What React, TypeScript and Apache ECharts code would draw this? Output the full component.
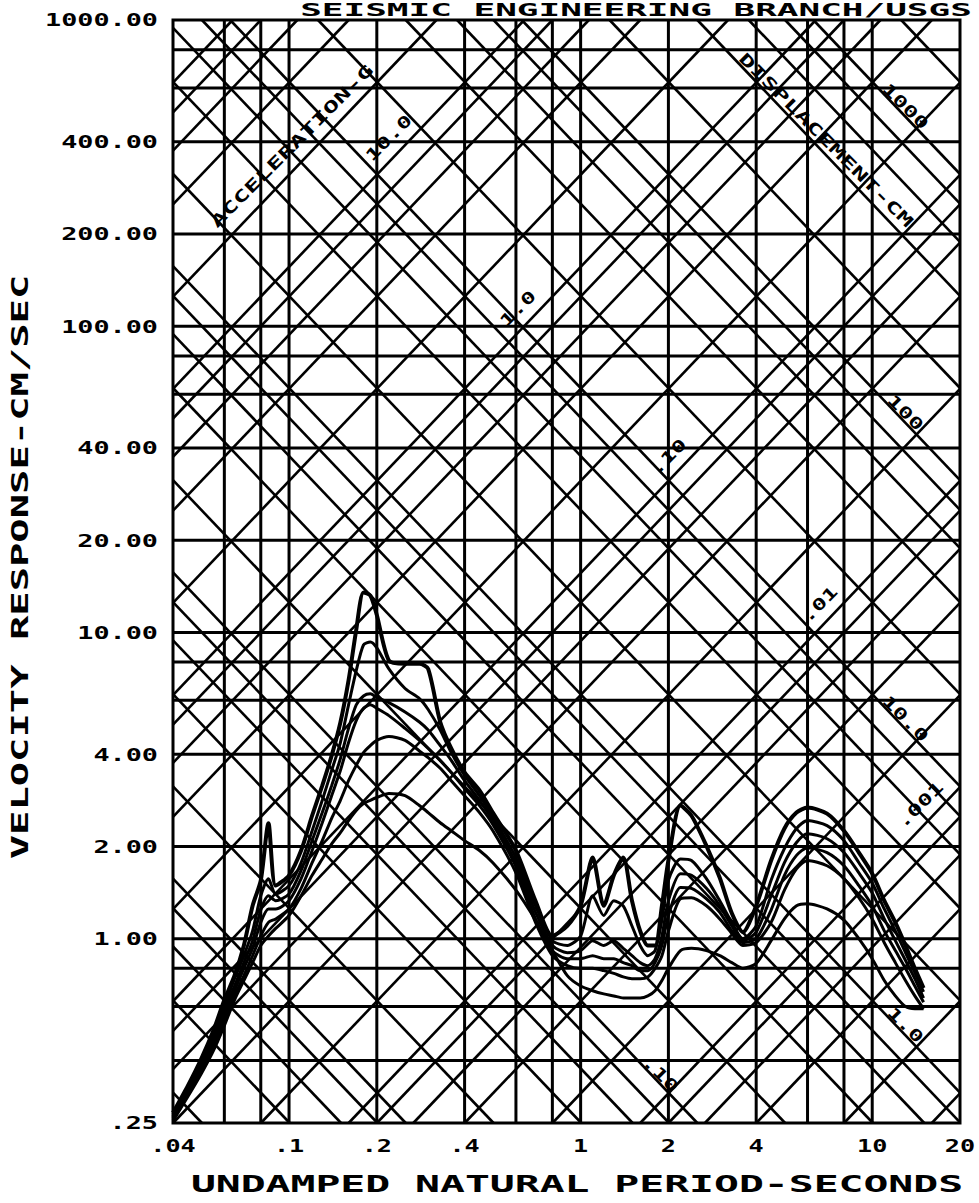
import React, { useEffect, useRef } from "react";
import * as echarts from "echarts";

// ---------- data ----------
const PERIODS = [0.04, 0.045, 0.05, 0.055, 0.06, 0.065, 0.07, 0.075, 0.08, 0.085, 0.09, 0.1, 0.11, 0.12, 0.13, 0.14, 0.15, 0.16, 0.17, 0.18, 0.19, 0.2, 0.22, 0.25, 0.28, 0.3, 0.33, 0.36, 0.4, 0.45, 0.5, 0.6, 0.7, 0.8, 0.9, 1.0, 1.1, 1.2, 1.3, 1.4, 1.5, 1.6, 1.7, 1.8, 1.9, 2.0, 2.2, 2.4, 2.7, 3.0, 3.3, 3.6, 4.0, 4.5, 5.0, 5.5, 6.0, 7.0, 8.0, 9.0, 10, 11, 12, 13, 14, 15];

const CURVE_1 = [0.27, 0.331, 0.405, 0.5, 0.63, 0.757, 0.95, 1.28, 1.55, 2.38, 1.49,
  1.61, 1.94, 2.52, 3.16, 3.96, 5.08, 6.97, 10.2, 13.5, 13.2,
  11.4, 8.1, 7.9, 7.9, 7.6, 5.1, 4.18,
  3.49, 3.05, 2.58,
  1.94, 1.33, 1.02, 1.1,
  1.28, 1.84, 1.28, 1.61, 1.84, 1.33, 1.06, 0.95, 0.95, 1.28,
  1.8, 2.72, 2.52, 2.01,
  1.58, 1.21, 1.05,
  1.28, 1.8,
  2.29, 2.58,
  2.68, 2.56, 2.25, 1.91,
  1.63, 1.33, 1.13, 0.95, 0.8, 0.69];
const CURVE_2 = [0.266, 0.324, 0.394, 0.48, 0.6, 0.74, 0.88, 1.06, 1.38, 1.57, 1.4,
  1.49, 1.77, 2.25, 2.83, 3.54, 4.37, 5.8, 7.5, 9.1, 9.3,
  8.9, 7.6, 6.56, 6.08, 5.6, 4.8, 4.05,
  3.41, 2.93, 2.5,
  1.84, 1.28, 0.985, 0.95,
  1.02, 1.38, 1.19, 1.33, 1.28, 1.1, 0.95, 0.88, 0.914, 1.15,
  1.55, 1.82, 1.8, 1.57,
  1.33, 1.13, 1.0,
  1.1, 1.55,
  1.97, 2.29,
  2.43, 2.34, 2.09, 1.77,
  1.52, 1.25, 1.06, 0.9, 0.774, 0.67];
const CURVE_3 = [0.262, 0.32, 0.385, 0.46, 0.58, 0.7, 0.835, 0.985, 1.24, 1.38, 1.33,
  1.4, 1.67, 2.09, 2.58, 3.16, 3.87, 4.86, 5.8, 6.2, 6.3,
  6.13, 5.9, 5.5, 5.1, 4.8, 4.27, 3.82,
  3.28, 2.83, 2.43,
  1.77, 1.22, 0.95, 0.9,
  0.914, 0.985, 0.95, 0.985, 0.93, 0.88, 0.835, 0.816, 0.86, 1.02,
  1.33, 1.63, 1.61, 1.46,
  1.28, 1.1, 0.985,
  1.05, 1.38,
  1.77, 2.06,
  2.2, 2.12, 1.91, 1.64,
  1.41, 1.16, 0.985, 0.85, 0.74, 0.64];
const CURVE_4 = [0.26, 0.314, 0.376, 0.454, 0.56, 0.676, 0.8, 0.93, 1.13, 1.25, 1.25,
  1.33, 1.57, 1.94, 2.39, 2.93, 3.54, 4.37, 5.15, 5.65, 5.8,
  5.65, 5.35, 4.86, 4.44, 4.18, 3.82, 3.49,
  3.09, 2.72, 2.36,
  1.72, 1.16, 0.914, 0.86,
  0.86, 0.88, 0.86, 0.86, 0.835, 0.816, 0.786, 0.786, 0.835, 0.95,
  1.19, 1.47, 1.46, 1.35,
  1.22, 1.06, 0.97,
  1.0, 1.24,
  1.61, 1.87,
  1.98, 1.91, 1.73, 1.49,
  1.28, 1.06, 0.914, 0.8, 0.7, 0.62];
const CURVE_5 = [0.258, 0.31, 0.37, 0.444, 0.54, 0.65, 0.757, 0.88, 1.02, 1.13, 1.16,
  1.25, 1.46, 1.77, 2.09, 2.47, 2.83, 3.28, 3.68, 4.05, 4.27,
  4.44, 4.57, 4.44, 4.1, 3.9, 3.6, 3.28,
  2.93, 2.58, 2.25,
  1.64, 1.13, 0.88, 0.816,
  0.8, 0.8, 0.786, 0.77, 0.75, 0.74, 0.74, 0.75, 0.8, 0.88,
  1.06, 1.35, 1.36, 1.28,
  1.16, 1.04, 0.95,
  0.97, 1.13,
  1.44, 1.69,
  1.8, 1.73, 1.57, 1.36,
  1.16, 0.97, 0.835, 0.73, 0.65, 0.59];
const CURVE_6 = [0.254, 0.305, 0.362, 0.43, 0.52, 0.63, 0.73, 0.835, 0.95, 1.02, 1.08,
  1.19, 1.38, 1.61, 1.82, 2.04, 2.22, 2.43, 2.62, 2.76, 2.83,
  2.89, 2.98, 2.93, 2.72, 2.58, 2.39, 2.25,
  2.09, 1.94, 1.77,
  1.44, 1.15, 0.914, 0.757,
  0.7, 0.676, 0.66, 0.65, 0.64, 0.64, 0.64, 0.65, 0.676, 0.73,
  0.8, 0.914, 0.93, 0.914,
  0.88, 0.835, 0.8,
  0.83, 0.985,
  1.16, 1.28,
  1.3, 1.25, 1.15, 1.0,
  0.86, 0.73, 0.65, 0.6, 0.59, 0.59];

const CURVES = [CURVE_1, CURVE_2, CURVE_3, CURVE_4, CURVE_5, CURVE_6];

const X_MIN = 0.04;
const X_MAX = 20;
const Y_MIN = 0.25;
const Y_MAX = 1000;

const X_TICKS = [0.04, 0.1, 0.2, 0.4, 1, 2, 4, 10, 20];
const X_TICK_LABELS = [".04", ".1", ".2", ".4", "1", "2", "4", "10", "20"];
const Y_TICKS = [1000, 400, 200, 100, 40, 20, 10, 4, 2, 1, 0.25];
const Y_TICK_LABELS = ["1000.00", "400.00", "200.00", "100.00", "40.00", "20.00", "10.00", "4.00", "2.00", "1.00", ".25"];

const X_GRID = [0.06, 0.08, 0.1, 0.2, 0.4, 0.6, 0.8, 1, 2, 4, 6, 8, 10];
const Y_GRID = [0.4, 0.6, 0.8, 1, 2, 4, 6, 8, 10, 20, 40, 60, 80, 100, 200, 400, 600, 800];

const DIAG_MULTIPLIERS = [1, 2, 4, 6, 8];
const ACC_DECADES = [-5, -4, -3, -2, -1, 0, 1, 2];
const DISP_DECADES = [-4, -3, -2, -1, 0, 1, 2, 3];

const ACC_LABELS = [
  { text: "10.0", g: 10, period: 0.22 },
  { text: "1.0", g: 1, period: 0.61 },
  { text: ".10", g: 0.1, period: 2.0 },
  { text: ".01", g: 0.01, period: 6.6 },
  { text: ".001", g: 0.001, period: 14.6 },
];
const DISP_LABELS = [
  { text: "1000", cm: 1000, period: 13 },
  { text: "100", cm: 100, period: 13 },
  { text: "10.0", cm: 10, period: 13 },
  { text: "1.0", cm: 1, period: 13 },
  { text: ".10", cm: 0.1, period: 1.88 },
];

const TITLE = "SEISMIC ENGINEERING BRANCH/USGS";
const X_NAME = "UNDAMPED NATURAL PERIOD-SECONDS";
const Y_NAME = "VELOCITY RESPONSE-CM/SEC";
const ACC_NAME = "ACCELERATION-G";
const DISP_NAME = "DISPLACEMENT-CM";

// ---------- helpers ----------
const G = 981;
const TWO_PI = 2 * Math.PI;
const accV = (g: number, t: number) => (g * G * t) / TWO_PI;
const dispV = (cm: number, t: number) => (TWO_PI * cm) / t;

const FONT = '"DejaVu Sans Mono", monospace';

function lineSeries(data: number[][], width: number, z = 2) {
  return {
    type: "line",
    data,
    symbol: "none",
    showSymbol: false,
    silent: true,
    clip: true,
    z,
    lineStyle: { color: "#000", width },
    emphasis: { disabled: true },
  };
}

function buildOption() {
  const series: any[] = [];
  X_GRID.forEach((x) => series.push(lineSeries([[x, Y_MIN], [x, Y_MAX]], 3)));
  Y_GRID.forEach((y) => series.push(lineSeries([[X_MIN, y], [X_MAX, y]], 3)));

  ACC_DECADES.forEach((e) =>
    DIAG_MULTIPLIERS.forEach((m) => {
      const g = m * Math.pow(10, e);
      const k = accV(g, 1);
      const lo = Math.max(X_MIN, Y_MIN / k);
      const hi = Math.min(X_MAX, Y_MAX / k);
      if (lo < hi) series.push(lineSeries([[lo, accV(g, lo)], [hi, accV(g, hi)]], 2.6));
    })
  );
  DISP_DECADES.forEach((e) =>
    DIAG_MULTIPLIERS.forEach((m) => {
      const cm = m * Math.pow(10, e);
      const lo = Math.max(X_MIN, (TWO_PI * cm) / Y_MAX);
      const hi = Math.min(X_MAX, (TWO_PI * cm) / Y_MIN);
      if (lo < hi) series.push(lineSeries([[lo, dispV(cm, lo)], [hi, dispV(cm, hi)]], 2.6));
    })
  );

  CURVES.forEach((c, i) => {
    const s: any = lineSeries(PERIODS.map((t, j) => [t, c[j]]), i === 0 ? 4 : 3, 5);
    s.smooth = 0.25;
    series.push(s);
  });

  const hidden = { show: false };
  return {
    animation: false,
    backgroundColor: "#fff",
    grid: {
      left: 173,
      top: 20,
      width: 787,
      height: 1103,
      show: true,
      borderColor: "#000",
      borderWidth: 3,
      backgroundColor: "transparent",
    },
    xAxis: {
      type: "log",
      logBase: 10,
      min: X_MIN,
      max: X_MAX,
      axisLine: hidden,
      axisTick: hidden,
      axisLabel: hidden,
      splitLine: hidden,
    },
    yAxis: {
      type: "log",
      logBase: 10,
      min: Y_MIN,
      max: Y_MAX,
      axisLine: hidden,
      axisTick: hidden,
      axisLabel: hidden,
      splitLine: hidden,
    },
    series,
  };
}

function text(t: string, x: number, y: number, size: number, scaleX: number, rotation = 0, align = "center") {
  return {
    type: "text",
    x,
    y,
    rotation,
    scaleX,
    z: 100,
    silent: true,
    style: {
      text: t,
      font: `bold ${size}px ${FONT}`,
      fill: "#000",
      align,
      textAlign: align,
      verticalAlign: "middle",
      textVerticalAlign: "middle",
    },
  };
}

function buildTexts(chart: any) {
  const px = (t: number, v: number) => chart.convertToPixel({ gridIndex: 0 }, [t, v]);
  const els: any[] = [];
  Y_TICKS.forEach((v, i) => {
    const p = px(X_MIN, v);
    els.push(text(Y_TICK_LABELS[i], 158, p[1], 18, 1.49, 0, "right"));
  });
  X_TICKS.forEach((t, i) => {
    const p = px(t, Y_MIN);
    els.push(text(X_TICK_LABELS[i], p[0], 1146, 18, 1.4, 0, "center"));
  });
  els.push(text(TITLE, 636, 10, 18, 2.0));
  els.push(text(X_NAME, 577, 1184, 23, 1.8));
  els.push(text(Y_NAME, 20, 567, 23, 1.76, Math.PI / 2));
  els.push(text(ACC_NAME, 292, 146, 16, 1.65, Math.PI / 4));
  els.push(text(DISP_NAME, 826, 140, 16, 1.65, -Math.PI / 4));
  ACC_LABELS.forEach((l) => {
    const p = px(l.period, accV(l.g, l.period) * 1.2);
    els.push(text(l.text, p[0], p[1], 16, 1.5, Math.PI / 4));
  });
  DISP_LABELS.forEach((l) => {
    const p = px(l.period, dispV(l.cm, l.period) * 1.08);
    els.push(text(l.text, p[0], p[1], 16, 1.5, -Math.PI / 4));
  });
  return els;
}

export default function App() {
  const ref = useRef<HTMLDivElement>(null);
  useEffect(() => {
    const el = ref.current;
    if (!el) return;
    const chart = echarts.init(el, null, { renderer: "svg" });
    chart.setOption(buildOption() as any);
    chart.setOption({ graphic: { elements: buildTexts(chart) } } as any);
    return () => chart.dispose();
  }, []);
  return (
    <div
      ref={ref}
      style={{ position: "absolute", left: 0, top: 0, width: 979, height: 1203, background: "#fff" }}
    />
  );
}
